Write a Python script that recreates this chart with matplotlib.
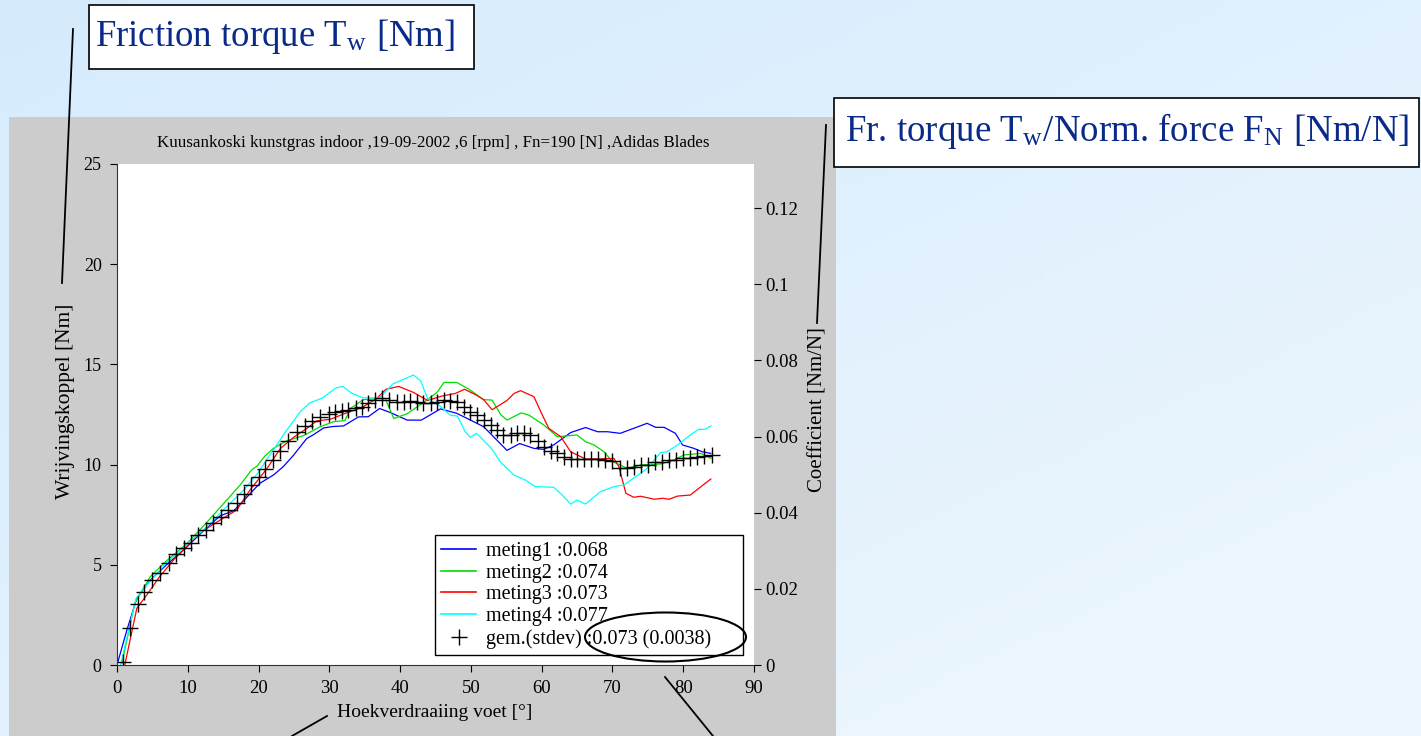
import numpy as np
import matplotlib
matplotlib.use('Agg')
import matplotlib.pyplot as plt
from matplotlib.patches import Rectangle, Ellipse
from matplotlib.lines import Line2D

plt.rcParams['font.family'] = ['Liberation Serif', 'DejaVu Serif']
plt.rcParams['mathtext.fontset'] = 'stix'

W, H = 1421, 736

# meting1 (blue)
x1 = [0, 1.4, 2.8, 4.7, 7.0, 9.9, 12.5, 14.6, 16.5, 17.9, 19.2, 20.2, 22.1, 23.5, 24.9, 26.8, 27.8, 29.2, 30.5, 32.0,
      33.0, 34.1, 35.5, 37.1, 38.6, 41.0, 43.0, 45.7, 48.0, 50.4, 51.8, 53.2, 55.1, 56.9, 58.9, 60.3, 61.7, 64.1, 66.2,
      67.9, 69.3, 71.1, 73.0, 74.9, 76.1, 77.3, 78.9, 79.9, 81.5, 82.7, 83.9]
y1 = [0, 1.75, 3.33, 4.24, 5.0, 5.9, 6.8, 7.45, 7.7, 8.2, 8.7, 9.07, 9.48, 9.9, 10.45, 11.3, 11.5, 11.83, 11.9, 11.93,
      12.14, 12.38, 12.39, 12.8, 12.6, 12.22, 12.22, 12.78, 12.56, 12.14, 11.89, 11.39, 10.71, 11.05, 10.81, 10.76, 10.98,
      11.6, 11.85, 11.64, 11.64, 11.56, 11.81, 12.06, 11.86, 11.86, 11.56, 10.98, 10.81, 10.64, 10.56]
# meting2 (green)
x2 = [0.7, 2.5, 4.7, 7.0, 9.9, 11.7, 13.2, 15.5, 17.4, 19.0, 19.8, 20.9, 22.1, 24.0, 26.4, 28.7, 30.6, 32.2, 33.0, 34.8,
      37.2, 37.9, 39.1, 41.0, 43.3, 45.2, 46.2, 48.0, 49.7, 51.8, 53.0, 54.2, 55.1, 57.1, 58.2, 60.3, 62.2, 65.0, 66.2,
      67.4, 68.8, 70.0, 71.1, 72.1, 74.0, 76.8, 78.7, 80.1, 82.5, 83.9]
y2 = [0.08, 3.08, 4.41, 5.2, 6.07, 6.74, 7.32, 8.23, 8.98, 9.73, 9.93, 10.43, 10.81, 11.19, 11.45, 11.89, 12.14, 12.2,
      12.81, 13.24, 13.3, 13.3, 12.3, 12.54, 13.1, 13.6, 14.1, 14.1, 13.77, 13.24, 13.22, 12.5, 12.22, 12.58, 12.47, 11.98,
      11.39, 11.48, 11.14, 10.98, 10.64, 10.15, 9.98, 9.81, 9.98, 10.03, 10.23, 10.48, 10.56, 10.31]
# meting3 (red)
x3 = [1.1, 2.8, 4.2, 6.0, 8.0, 11.7, 14.6, 16.9, 18.8, 21.2, 23.1, 24.9, 26.8, 28.2, 30.1, 32.3, 34.6, 36.7, 38.0, 39.8,
      41.9, 43.9, 45.9, 47.8, 49.1, 50.6, 51.8, 53.0, 54.2, 55.1, 56.1, 57.0, 58.9, 60.1, 61.0, 62.7, 64.1, 66.2, 67.9,
      70.2, 70.9, 71.9, 73.0, 74.0, 75.9, 77.1, 78.0, 79.2, 81.0, 82.5, 83.9]
y3 = [0, 2.83, 3.49, 4.4, 5.24, 6.59, 7.24, 7.73, 8.73, 9.81, 10.81, 11.35, 11.8, 12.18, 12.26, 12.56, 12.85, 13.3, 13.76,
      13.9, 13.6, 13.2, 13.42, 13.55, 13.76, 13.5, 13.24, 12.74, 13.0, 13.2, 13.55, 13.69, 13.39, 12.47, 11.81, 11.39,
      10.64, 10.28, 10.28, 10.31, 9.9, 8.57, 8.37, 8.42, 8.27, 8.32, 8.27, 8.43, 8.48, 8.9, 9.28]
# meting4 (cyan)
x4 = [0.5, 2.7, 4.4, 7.0, 10.0, 13.0, 15.5, 17.9, 19.8, 21.6, 24.0, 25.9, 27.2, 29.0, 30.9, 31.9, 33.2, 34.8, 37.1, 39.0,
      41.9, 42.9, 43.9, 45.7, 47.1, 48.1, 49.2, 49.9, 50.8, 52.9, 54.2, 56.1, 57.7, 59.1, 61.7, 62.9, 64.1, 65.0, 66.2,
      68.3, 70.2, 71.6, 73.3, 74.9, 76.8, 77.7, 79.2, 81.0, 82.2, 83.1, 83.9]
y4 = [0, 3.33, 4.07, 5.1, 6.05, 7.0, 7.9, 8.73, 9.53, 10.48, 11.73, 12.64, 13.07, 13.32, 13.82, 13.9, 13.55, 13.33, 13.33,
      14.03, 14.47, 14.18, 13.28, 12.9, 12.47, 12.42, 11.64, 11.36, 11.56, 10.81, 10.12, 9.48, 9.23, 8.9, 8.87, 8.48, 8.03,
      8.23, 8.03, 8.65, 8.9, 8.98, 9.4, 9.81, 10.6, 10.64, 10.98, 11.48, 11.76, 11.76, 11.93]
# gemiddelde (black +)
x_mean = [0.9, 1.9, 2.9, 3.8, 5.0, 6.1, 7.3, 8.3, 9.4, 10.4, 11.5, 12.6, 13.6, 14.7, 15.7, 16.9, 18.0, 19.0, 20.0, 20.9,
          22.0, 23.1, 24.2, 25.4, 26.6, 27.5, 28.7, 29.9, 30.8, 31.8, 32.7, 33.7, 34.6, 35.5, 36.5, 37.4, 38.4, 39.6, 40.5,
          41.4, 42.4, 43.3, 44.3, 45.2, 46.2, 47.1, 48.1, 49.0, 49.9, 50.9, 51.8, 52.8, 53.7, 54.6, 55.6, 56.5, 57.5, 58.4,
          59.5, 60.4, 61.3, 62.2, 63.1, 64.1, 65.0, 66.0, 67.0, 68.0, 69.0, 70.0, 71.0, 72.0, 73.0, 74.0, 75.0, 76.0, 77.0,
          78.0, 79.0, 80.0, 81.0, 82.0, 83.0, 84.0]
y_mean = [0.17, 1.85, 3.04, 3.66, 4.24, 4.6, 5.1, 5.54, 5.82, 6.1, 6.49, 6.74, 7.07, 7.4, 7.73, 8.07, 8.53, 8.98, 9.4,
          9.77, 10.23, 10.7, 11.2, 11.64, 11.93, 12.18, 12.39, 12.52, 12.6, 12.66, 12.72, 12.8, 12.89, 13.06, 13.22, 13.3,
          13.22, 13.14, 13.14, 13.18, 13.14, 13.09, 13.09, 13.14, 13.22, 13.19, 13.14, 12.89, 12.64, 12.47, 12.22, 11.98,
          11.73, 11.5, 11.5, 11.6, 11.56, 11.48, 11.2, 10.9, 10.7, 10.56, 10.4, 10.3, 10.28, 10.28, 10.28, 10.28, 10.23,
          10.18, 9.81, 9.81, 9.9, 9.98, 9.98, 10.12, 10.15, 10.23, 10.25, 10.31, 10.35, 10.4, 10.43, 10.48]

labels = ['meting1 :0.068', 'meting2 :0.074', 'meting3 :0.073', 'meting4 :0.077', 'gem.(stdev) :0.073 (0.0038)']
colors = ['#0000ff', '#00dd00', '#ff0000', '#00ffff']
Fn = 190.0
right_ticks = [0, 0.02, 0.04, 0.06, 0.08, 0.1, 0.12]
right_labels = ['0', '0.02', '0.04', '0.06', '0.08', '0.1', '0.12']


def fx(px):
    return px / W


def fy(py):
    return 1 - py / H


fig = plt.figure(figsize=(W / 100, H / 100), dpi=100)

# background gradient
bg = fig.add_axes([0, 0, 1, 1], zorder=-10)
gx, gy = np.meshgrid(np.linspace(0, 1, 200), np.linspace(0, 1, 100))
t = np.clip(0.55 * gx + 0.6 * gy, 0, 1)
c0 = np.array([0.835, 0.922, 0.992])
c1 = np.array([0.925, 0.965, 0.995])
img = c0[None, None, :] * (1 - t[..., None]) + c1[None, None, :] * t[..., None]
bg.imshow(img, aspect='auto', extent=[0, 1, 0, 1], origin='upper')
bg.set_axis_off()

# grey chart panel
fig.patches.append(Rectangle((fx(9), 0), fx(836) - fx(9), fy(117), transform=fig.transFigure,
                             facecolor='#cccccc', edgecolor='none', zorder=-5))

ax = fig.add_axes([fx(117), fy(665), fx(754) - fx(117), fy(164) - fy(665)])
ax.set_facecolor('white')
for xs, ys, c in zip([x1, x2, x3, x4], [y1, y2, y3, y4], colors):
    ax.plot(xs, ys, color=c, lw=0.9)
ax.plot(x_mean, y_mean, ls='none', marker='+', color='black', markersize=12, markeredgewidth=1.0)

handles = [Line2D([], [], color=c, lw=1.2) for c in colors]
handles.append(Line2D([], [], ls='none', marker='+', color='black', markersize=11, markeredgewidth=1.0))
leg = ax.legend(handles, labels, loc='lower left', bbox_to_anchor=(0.499, 0.02, 0.484, 0.243), mode='expand',
                fontsize=14.5, frameon=True, fancybox=False, framealpha=1, edgecolor='black',
                handlelength=1.75, handletextpad=0.5, labelspacing=0.14, borderpad=0.3, borderaxespad=0)
leg.get_frame().set_linewidth(1.0)

ax.set_xlim(0, 90)
ax.set_ylim(0, 25)
ax.set_xticks(range(0, 91, 10))
ax.set_yticks(range(0, 26, 5))
ax.tick_params(axis='x', direction='out', length=5, labelsize=13.5, pad=6)
ax.tick_params(axis='y', direction='out', length=5, labelsize=13, pad=6)
for s in ['top', 'right']:
    ax.spines[s].set_visible(False)
ax.spines['left'].set_color('#333333')
ax.spines['bottom'].set_color('#333333')

ax.set_title('Kuusankoski kunstgras indoor ,19-09-2002 ,6 [rpm] , Fn=190 [N] ,Adidas Blades',
             fontsize=12.2, x=0.497, y=1.033, pad=0)
ax.set_xlabel('Hoekverdraaiing voet [°]', fontsize=14)
ax.xaxis.set_label_coords(0.498, -0.078)
ax.set_ylabel('Wrijvingskoppel [Nm]', fontsize=15.5)
ax.yaxis.set_label_coords(-0.066, 0.527)

ax2 = ax.twinx()
ax2.set_ylim(0, 25 / Fn)
ax2.set_yticks(right_ticks)
ax2.set_yticklabels(right_labels)
ax2.tick_params(axis='y', direction='out', length=5, labelsize=13.5, pad=3)
for s in ax2.spines.values():
    s.set_visible(False)
ax2.set_ylabel('Coefficient [Nm/N]', fontsize=15)
ax2.yaxis.set_label_coords(1.086, 0.51)

# annotation boxes
navy = '#0a2a8a'
fig.patches.append(Rectangle((fx(89), fy(69)), fx(474) - fx(89), fy(5) - fy(69), transform=fig.transFigure,
                             facecolor='white', edgecolor='black', lw=1.2, zorder=5))
fig.text(fx(95), fy(37), 'Friction torque T$_\\mathregular{w}$ [Nm]', color=navy, fontsize=26.5,
         va='center', ha='left', zorder=6)
fig.patches.append(Rectangle((fx(834), fy(167)), fx(1419) - fx(834), fy(98) - fy(167), transform=fig.transFigure,
                             facecolor='white', edgecolor='black', lw=1.2, zorder=5))
fig.text(fx(845), fy(131), 'Fr. torque T$_\\mathregular{w}$/Norm. force F$_\\mathregular{N}$ [Nm/N]', color=navy,
         fontsize=26.6, va='center', ha='left', zorder=6)

# pointer lines
for (xa, ya), (xb, yb) in [((73, 29), (62, 283)), ((826, 125), (817, 323)),
                           ((327, 716), (292, 736)), ((665, 677), (713, 736))]:
    fig.add_artist(Line2D([fx(xa), fx(xb)], [fy(ya), fy(yb)], color='black', lw=1.3, transform=fig.transFigure,
                          zorder=7))

fig.patches.append(Ellipse((fx(665.5), fy(637)), 161 / W, 49 / H, transform=fig.transFigure,
                           facecolor='none', edgecolor='black', lw=1.5, zorder=7))

fig.savefig('out.png', dpi=100)
